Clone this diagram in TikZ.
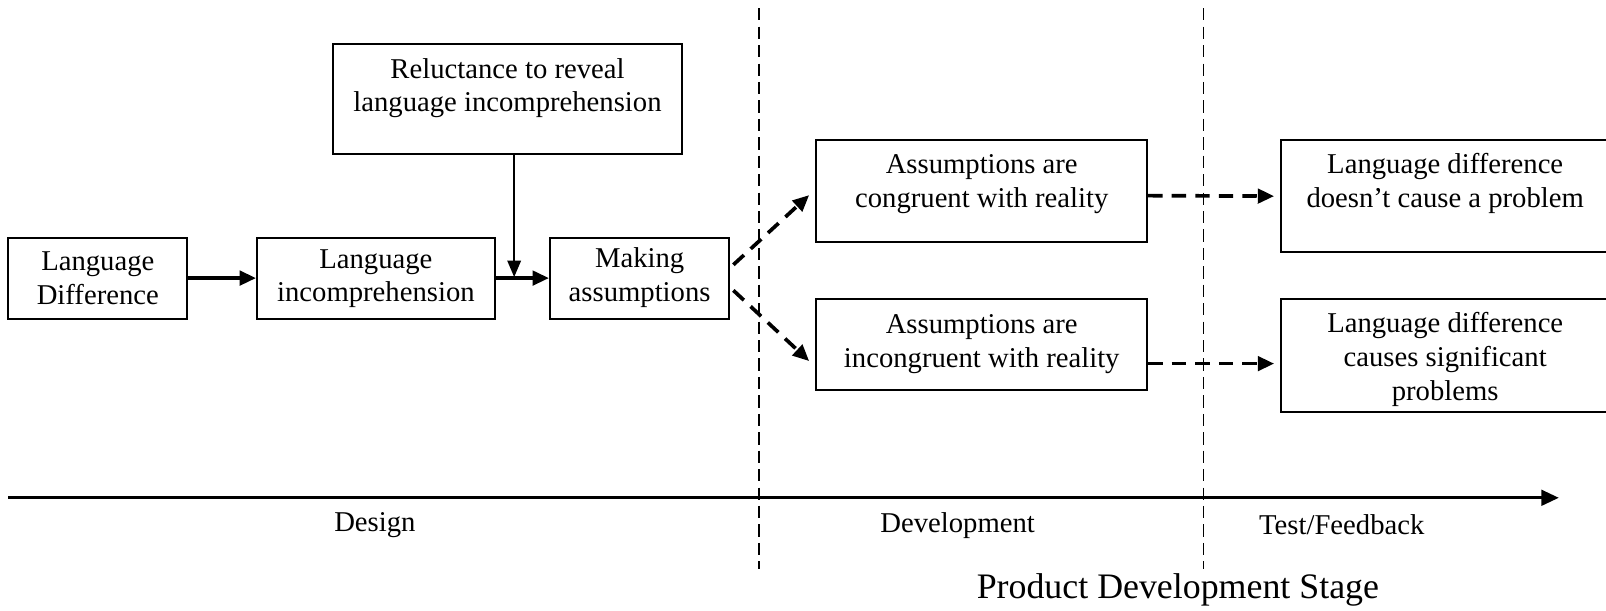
\documentclass[tikz,border=0pt]{standalone}
\usepackage{fontspec}
\setmainfont{Liberation Serif}
\usetikzlibrary{arrows.meta,calc}
\begin{document}
\begin{tikzpicture}[x=0.5pt,y=-0.5pt,
  frame/.style={draw, line width=1pt, inner sep=0pt},
  lbl/.style={align=center, font=\fontsize{14}{16.5}\selectfont, inner sep=0pt},
  flow/.style={line width=1.8pt, -{Triangle[length=8pt,width=7pt]}},
  drop/.style={line width=1.1pt, -{Triangle[length=8pt,width=6.5pt]}},
  guess/.style={flow, dash pattern=on 7pt off 4.5pt},
  stageline/.style={line width=0.8pt, dash pattern=on 6pt off 3pt},
  axis/.style={line width=1.6pt, -{Triangle[length=8.5pt,width=7.5pt]}},
  stagelbl/.style={font=\fontsize{14}{16.5}\selectfont, inner sep=0pt},
]
\useasboundingbox (0,0) rectangle (1568,596);
\begin{scope}
\clip (0,0) rectangle (1568,596);

% boxes
\node[frame, minimum width=87.5pt, minimum height=39.5pt] (ld) at (95.5,271.5) {};
\node[frame, minimum width=116pt, minimum height=39.5pt] (li) at (367,271.5) {};
\node[frame, minimum width=170.5pt, minimum height=53.5pt] (rel) at (495.5,96.5) {};
\node[frame, minimum width=87.5pt, minimum height=39.5pt] (ma) at (624.5,271.5) {};
\node[frame, minimum width=161.5pt, minimum height=49.5pt] (con) at (958.5,186.5) {};
\node[frame, minimum width=161.5pt, minimum height=44.5pt] (inc) at (958.5,336.5) {};
\node[frame, minimum width=160.5pt, minimum height=54.5pt] (ok) at (1411.5,191.5) {};
\node[frame, minimum width=160.5pt, minimum height=55pt] (bad) at (1411.5,347) {};

% box texts
\node[lbl] (ldT) at (95.5,272) {Language\\Difference};
\node[lbl] (liT) at (367,272) {Language\\incomprehension};
\node[lbl] (relT) at (495.5,86) {Reluctance to reveal\\language incomprehension};
\node[lbl] (maT) at (624.5,271) {Making\\assumptions};
\node[lbl] (conT) at (958.5,180) {Assumptions are\\congruent with reality};
\node[lbl] (incT) at (958.5,336) {Assumptions are\\incongruent with reality};
\node[lbl] (okT) at (1411,179) {Language difference\\doesn’t cause a problem};
\node[lbl] (badT) at (1411,351) {Language difference\\causes significant\\problems};

% stage separators and time axis
\coordinate (s1t) at (741,8);
\coordinate (s1b) at (741,556);
\coordinate (s2t) at (1175,8);
\coordinate (s2b) at (1175,556);
\draw[stageline] (s1t) -- (s1b);
\draw[stageline] (s2t) -- (s2b);
\coordinate (axs) at (8,486);
\coordinate (axe) at (1522,486);
\draw[axis] (axs) -- (axe);

% causal chain
\coordinate (join) at (502,271.5);
\draw[flow] (ld) -- (li);
\draw[flow] (li) -- (ma);
\draw[drop] (join |- rel.south) -- ($(join)+(0,-1)$);
\draw[guess] ($(ma.east)+(3,-13)$) -- ($(con.west)+(-6,4)$);
\draw[guess] ($(ma.east)+(3,12)$) -- ($(inc.west)+(-6,16)$);
\draw[guess] ($(con.east)+(0,4.5)$) -- ($(ok.west)+(-6,0)$);
\draw[guess] ($(inc.east)+(0,18.5)$) -- ($(bad.west)+(-6,8)$);

% stage labels
\node[stagelbl] (design) at (366,513) {Design};
\node[stagelbl] (devel) at (935,513) {Development};
\node[stagelbl] (test) at (1310,512) {Test/Feedback};
\node[font=\fontsize{17.5}{20}\selectfont, inner sep=0pt] (pds) at (1150,576) {Product Development Stage};
\end{scope}
\end{tikzpicture}
\end{document}
